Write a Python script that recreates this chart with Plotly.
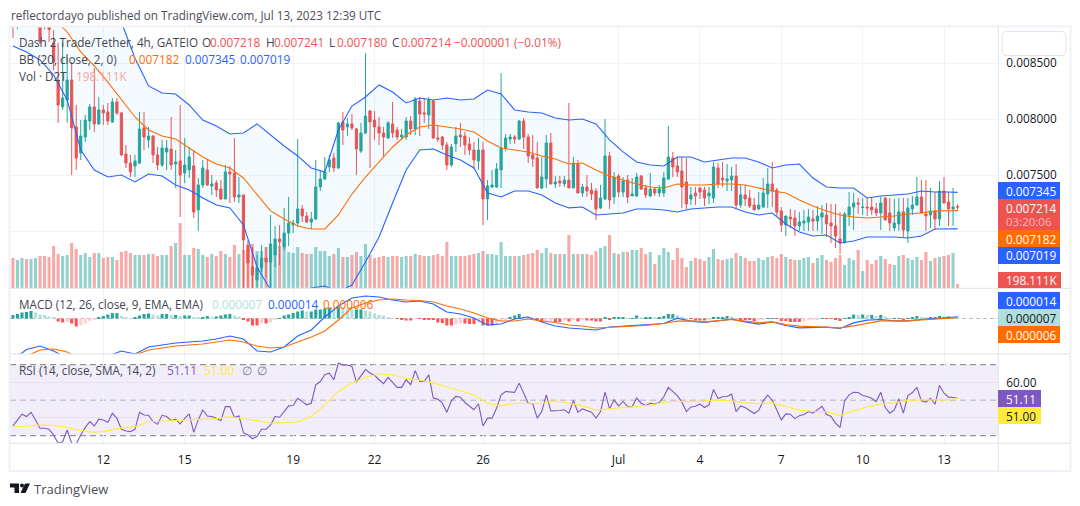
#!/usr/bin/env python3

import pandas as pd
import plotly.graph_objects as go

# the page keeps its 8px body margin, so the figure is a little smaller than the window
WIDTH = 1064
HEIGHT = 490
PAGE_MARGIN = 8
FONT = "Open Sans"

# 4h candles of D2T/USDT, prices in millionths
start_time = "2023-06-08 16:00"

opens = [
    8929,8850,8900,8960,8890,8950,9000,8900,8880,8679,
    8348,8108,8170,8348,7929,7697,7839,7982,8108,7956,
    8081,8063,7974,8152,8054,7688,7607,7581,7607,7920,
    7813,7848,7679,7589,7706,7732,7598,7625,7518,7545,
    7581,7188,7411,7545,7402,7429,7375,7286,7527,7518,
    7304,7322,6875,6679,6562,6670,6759,6723,6786,6929,
    6857,6982,7054,7071,7197,7134,7080,7107,7393,7464,
    7572,7652,7563,7974,7929,7956,7911,7714,7875,8072,
    7991,7929,7875,7830,7956,7902,7839,7839,7982,7911,
    8161,8054,8036,8161,7830,7839,7768,7589,7777,7857,
    7848,7777,7723,7625,7723,7286,7393,7393,7545,7741,
    7821,7839,7821,7982,7839,7679,7652,7384,7464,7786,
    7420,7446,7420,7455,7384,7598,7339,7393,7366,7357,
    7206,7286,7670,7304,7491,7348,7455,7313,7313,7491,
    7384,7313,7375,7339,7339,7464,7652,7581,7536,7438,
    7286,7339,7384,7366,7313,7295,7563,7473,7446,7455,
    7491,7232,7322,7295,7232,7197,7214,7330,7420,7366,
    7179,7054,7125,7116,7045,7071,7080,7107,7089,7125,
    7143,7071,7045,6929,6893,7143,7214,7250,7210,7214,
    7214,7197,7161,7295,7161,7027,7063,7170,7000,7197,
    7232,7304,7152,7143,7179,7107,7357,7259,7197,7218,
]
highs = [
    8974,8990,9010,9030,9000,9040,9050,8950,8960,8795,
    8679,8679,8554,8509,8125,7991,8036,8134,8455,8197,
    8125,8143,8188,8188,8063,7768,7679,7679,8063,8063,
    7929,7857,7750,7813,7813,8018,7723,8125,7830,7750,
    7723,7473,7634,7643,7500,7455,7455,7589,7581,7830,
    7482,7322,6920,6857,6786,6875,6857,7143,7045,7054,
    7206,7304,7098,7821,7232,7170,7170,7634,7545,7661,
    7679,7697,7974,8063,8009,8045,7920,7965,8589,8080,
    8072,8018,7929,7982,8152,7929,7911,8018,8027,8197,
    8197,8187,8197,8170,7947,7848,7795,7777,7929,7965,
    7884,7839,7795,7830,7795,7455,7545,7607,8411,7866,
    7866,7857,7991,8009,7866,7857,7795,7661,7857,7875,
    7491,7491,7491,8143,7661,7634,7420,7500,7429,7384,
    7411,8000,7706,7527,7509,7482,7500,7473,7518,7500,
    7411,7518,7384,7411,7527,7938,7706,7661,7661,7652,
    7393,7393,7393,7393,7393,7616,7607,7616,7598,7572,
    7598,7411,7411,7366,7295,7348,7473,7563,7616,7384,
    7214,7134,7197,7188,7170,7188,7197,7188,7223,7232,
    7250,7241,7241,7170,7170,7348,7339,7295,7295,7295,
    7304,7250,7304,7295,7295,7286,7295,7295,7295,7313,
    7482,7455,7455,7384,7348,7446,7482,7348,7384,7241,
]
lows = [
    8723,8800,8850,8860,8830,8880,8670,8800,8688,8437,
    7965,8081,7965,7500,7545,7634,7795,7902,7884,7947,
    7947,7947,7965,8036,7670,7563,7482,7482,7598,7723,
    7741,7607,7545,7572,7545,7545,7384,7125,7429,7473,
    7116,7000,7384,7402,7322,7304,7277,7286,7250,7259,
    7250,6491,6491,6491,6429,6634,6580,6491,6679,6696,
    6830,6866,6982,7036,7080,7071,7018,7098,7357,7455,
    7527,7527,7554,7768,7848,7902,7500,7697,7866,7563,
    7813,7768,7661,7821,7830,7813,7813,7813,7857,7857,
    7848,7965,7911,7821,7795,7723,7545,7572,7706,7750,
    7679,7679,7554,7545,7054,7098,7384,7384,7384,7714,
    7777,7777,7813,7732,7607,7572,7384,7375,7384,7420,
    7384,7393,7393,7384,7384,7339,7304,7304,7277,7098,
    7197,7277,7197,7241,7304,7304,7250,7313,7304,7366,
    7295,7304,7313,7304,7304,7455,7482,7482,7206,7197,
    7232,7232,7286,7223,7241,7250,7384,7393,7357,7357,
    7197,7206,7223,7206,7188,7188,7206,7206,7214,7134,
    6991,6955,7027,6955,7000,7000,7000,7000,7000,6973,
    6946,6893,6848,6795,6893,7045,7009,7152,7143,7134,
    7143,7134,7009,7098,7000,7000,7000,6946,6893,7143,
    7223,7161,7000,7027,7009,7045,7250,7045,7045,7180,
]
closes = [
    8866,8920,8960,8890,8950,9000,8688,8850,8800,8509,
    8125,8188,8348,7920,7652,7848,7991,8108,7956,8081,
    8054,7982,8152,8054,7679,7607,7527,7625,7911,7839,
    7848,7679,7589,7741,7741,7589,7616,7500,7589,7661,
    7170,7411,7563,7411,7420,7366,7286,7527,7509,7304,
    7322,6920,6714,6607,6670,6759,6723,6884,6929,6902,
    6982,7071,7071,7197,7134,7080,7107,7393,7464,7527,
    7634,7563,7965,7902,7956,7920,7732,7875,8027,7974,
    7929,7875,7839,7965,7875,7839,7857,7982,7911,8179,
    8045,8045,8170,7830,7821,7768,7589,7750,7848,7839,
    7768,7723,7634,7723,7286,7402,7411,7554,7741,7830,
    7839,7821,7982,7839,7670,7643,7384,7482,7786,7420,
    7438,7429,7455,7384,7607,7339,7393,7357,7330,7197,
    7295,7670,7277,7482,7348,7446,7304,7330,7482,7375,
    7322,7375,7339,7375,7473,7661,7572,7527,7393,7241,
    7322,7313,7348,7295,7339,7572,7420,7455,7464,7491,
    7232,7322,7286,7223,7188,7232,7339,7420,7357,7170,
    7054,7134,7107,7045,7080,7089,7125,7089,7134,7161,
    7063,7045,6955,6893,7152,7214,7250,7241,7214,7206,
    7188,7161,7250,7098,7071,7071,7170,7009,7206,7232,
    7304,7161,7134,7179,7107,7357,7250,7197,7214,7214,
]

# volume in thousands
volumes = [
    1500,1400,1500,1450,1450,1500,1600,1600,1550,2100,
    1700,1600,1650,2250,1950,1650,1750,1550,1750,1750,
    1500,1550,1550,1400,1800,1850,1750,1650,1650,1650,
    1700,1700,1600,1650,1650,2100,2250,3250,1650,1650,
    2000,1950,1650,1550,1700,1600,1850,1700,1550,2150,
    1700,1900,1950,2200,1850,1850,2050,1850,2150,2100,
    2300,1800,1750,2050,1750,1700,1700,2050,1850,1850,
    1600,1700,2000,1550,1550,1650,1800,1600,2200,1650,
    1500,1550,1600,1550,1600,1600,1550,1600,1600,1700,
    1650,1600,1600,1650,1700,1600,2300,1600,1600,1600,
    1600,1650,1700,1750,1850,1700,1700,1650,2300,1600,
    1600,1600,1600,1650,1700,1750,1900,1750,2000,1750,
    1700,1700,1700,2650,1700,1700,1700,1700,1650,1850,
    2000,2100,2650,1750,1700,1800,1800,1900,1900,2000,
    1700,1800,1200,1650,2000,1800,1400,2000,1500,1050,
    1350,1500,1450,1350,1550,1950,1450,1400,1450,1500,
    1750,1600,1500,1350,1350,1500,1400,1550,1600,1500,
    1700,1550,1450,1400,1400,1500,1550,1250,1500,1650,
    1400,1300,1500,1650,1150,1500,1400,1900,850,1400,
    1200,1400,1600,1450,1200,1150,1600,1650,1500,1400,
    1550,1400,1800,1350,1500,1550,1600,1650,1750,198,
]

# MACD histogram, RSI per bar, MACD in millionths
macd_hist = [
    28,36,48,52,60,48,32,28,16,8,
    -24,-32,-28,-40,-64,-56,-40,-20,-8,12,
    20,32,44,44,20,8,4,8,24,36,
    40,32,24,36,36,28,28,20,24,24,
    12,8,12,20,16,16,24,32,36,24,
    16,-8,-24,-56,-56,-40,-40,-32,-8,4,
    24,32,44,56,64,56,56,72,72,80,
    88,80,96,88,80,72,72,72,64,56,
    40,28,24,12,4,-2,-8,-16,-16,-4,
    -4,-8,-8,-8,-32,-36,-56,-56,-48,-40,
    -40,-44,-44,-32,-56,-56,-56,-48,-24,-12,
    12,24,36,16,8,0,-12,-28,-24,-20,
    -28,-28,-16,-24,-12,-24,-8,-16,-16,-24,
    -24,8,-8,12,12,12,4,4,24,8,
    12,12,8,12,20,36,36,28,16,2,
    -4,-16,-16,-16,-8,12,12,12,20,16,
    4,-12,-12,-12,-20,-12,-8,4,4,-4,
    -20,-20,-28,-28,-28,-20,-16,-12,-8,2,
    -2,-4,-12,-20,4,12,32,28,32,28,
    28,20,28,16,4,4,4,-16,4,12,
    20,12,8,8,8,20,16,16,12,7,
]
rsi = [
    35.5,38.9,42.1,40.8,43.2,38.9,34.2,34.2,33.6,30.4,
    25.7,26.6,33.2,25.7,25.3,30.4,34.7,37.9,35.5,39.3,
    38.9,37.6,42.6,39.8,33.6,32.7,32.3,33.6,43.2,41.7,
    41.5,37.9,36.4,41.5,40.8,38.5,39.3,36.6,39.8,42.3,
    31.9,38.9,44.5,41.1,40.8,39.8,38.5,46.4,46.4,40.4,
    41.1,31.7,30.4,28.3,29.5,33.6,33.6,36.1,40.8,40.4,
    43.6,46.8,47.0,51.1,49.2,47.4,48.3,58.6,60.5,64.3,
    65.2,61.5,70.9,69.8,69.8,69.0,60.2,63.4,67.2,65.3,
    64.0,61.5,59.3,62.8,60.0,57.2,57.2,61.5,58.7,66.6,
    60.6,60.6,64.3,51.2,50.6,48.3,43.2,49.6,52.1,51.7,
    48.7,46.4,44.6,48.0,35.5,39.9,39.9,45.5,53.0,54.9,
    54.7,54.4,59.6,54.0,48.3,48.0,39.9,43.6,53.0,44.0,
    44.0,44.2,44.6,42.7,49.8,43.1,45.1,44.2,43.2,39.9,
    43.6,54.5,45.1,50.2,46.8,49.3,46.4,46.4,51.2,48.3,
    47.0,48.3,47.8,48.7,51.9,57.2,54.9,52.6,48.9,43.6,
    46.2,46.6,47.9,45.9,47.4,56.0,50.9,51.9,52.1,53.4,
    43.6,46.8,45.9,44.2,42.5,44.2,49.6,52.8,50.0,44.5,
    38.9,42.3,42.1,39.6,41.3,41.9,43.6,42.7,44.7,46.6,
    42.1,40.8,37.0,34.7,49.6,53.0,54.5,54.3,52.6,52.1,
    51.1,49.2,54.5,45.9,42.7,44.5,50.8,42.7,52.6,54.3,
    57.2,49.6,48.9,51.1,47.7,58.3,53.9,51.7,51.5,51.11,
]

# the smooth lines, read every third bar and on the last one
bb_upper = [
    9450,9480,9500,9450,9350,9200,9050,8900,8866,8545,
    8295,8232,8223,8125,7991,7938,7866,7875,7956,7857,
    7759,7670,7563,7527,7902,8116,8197,8304,8241,8143,
    8188,8170,8188,8170,8179,8259,8224,8081,8063,8054,
    8009,7991,8000,7956,7813,7706,7616,7589,7581,7661,
    7661,7616,7634,7652,7652,7616,7563,7589,7598,7473,
    7393,7384,7384,7295,7313,7322,7330,7357,7348,7348,7345,
]
bb_basis = [
    9150,9100,9020,8900,8777,8599,8474,8330,8179,8018,
    7902,7848,7821,7741,7661,7598,7563,7473,7322,7179,
    7107,7045,7018,7018,7143,7330,7482,7616,7750,7857,
    7929,7947,7929,7911,7884,7804,7741,7723,7706,7670,
    7643,7598,7607,7545,7491,7455,7420,7393,7384,7420,
    7411,7411,7420,7420,7411,7384,7357,7339,7277,7223,
    7179,7143,7125,7116,7125,7134,7152,7161,7179,7179,7182,
]
bb_lower = [
    8652,8598,8527,8393,8170,7723,7545,7482,7500,7438,
    7509,7491,7411,7366,7295,7232,7206,7054,6679,6473,
    6420,6384,6491,6509,6455,6518,6723,6946,7250,7545,
    7723,7732,7679,7634,7563,7339,7304,7357,7357,7322,
    7250,7206,7214,7143,7152,7161,7197,7197,7188,7170,
    7197,7206,7214,7214,7170,7143,7161,7063,6991,6955,
    6964,6893,6911,6946,6946,6946,6938,6955,7018,7018,7019,
]
macd_line = [
    -332,-248,-220,-260,-316,-364,-348,-300,-260,-284,
    -228,-212,-196,-188,-180,-164,-140,-164,-260,-268,
    -228,-140,-92,12,100,164,180,172,148,132,
    140,116,52,36,4,-52,-44,-4,12,-28,
    -60,-76,-84,-92,-68,-60,-52,-44,-40,3,
    -21,-32,-21,-5,-27,-45,-27,-56,-75,-69,
    -69,-80,-35,-13,-8,-19,-19,-8,0,11,14,
]
macd_signal = [
    -372,-300,-252,-244,-268,-332,-356,-348,-324,-292,
    -252,-236,-220,-212,-204,-188,-172,-188,-220,-236,
    -228,-188,-148,-100,-12,84,124,148,156,148,
    144,132,100,76,44,4,-20,-20,-4,-20,
    -32,-52,-60,-76,-72,-68,-60,-52,-40,-21,
    -19,-27,-19,-8,-21,-32,-27,-48,-61,-67,
    -69,-75,-59,-37,-19,-19,-19,-11,-3,3,6,
]
rsi_ma = [
    35.1,35.3,36.1,35.9,34.7,32.9,31.9,32.7,34.4,35.1,
    37.9,38.3,38.3,38.9,39.3,39.6,40.8,39.8,38.5,37.0,
    37.2,37.8,40.8,47.4,54.9,59.6,63.0,64.7,64.3,62.3,
    61.3,59.6,57.4,55.5,52.9,48.3,46.8,48.3,48.3,48.0,
    49.7,48.3,46.8,44.4,45.3,45.9,46.6,47.2,48.7,49.4,
    49.2,49.8,50.0,49.6,48.5,48.1,48.5,46.4,44.3,43.8,
    43.6,41.3,44.0,46.2,47.9,48.5,50.0,50.2,50.0,50.2,51.0,
]

tick_dates = ["2023-06-12", "2023-06-15", "2023-06-19", "2023-06-22", "2023-06-26",
              "2023-07-01", "2023-07-04", "2023-07-07", "2023-07-10", "2023-07-13"]
tick_labels = ["12", "15", "19", "22", "26", "Jul", "4", "7", "10", "13"]
price_ticks = [0.007, 0.0075, 0.008, 0.0085]
price_tick_labels = ["", "0.007500", "0.008000", "0.008500"]

GREEN = "#26a69a"
RED = "#ef5350"
BLUE = "#2962ff"
ORANGE = "#ff6d00"
TEXT = "#131722"
LEGEND = "#434651"
GRID = "#f0f3fa"
FRAME = "#e0e3eb"
PURPLE = "#7e57c2"
YELLOW = "#ffeb3b"
LINE_W = 1.1
AXIS_SIZE = 11.8

assert all(len(s) == 210 for s in (opens, highs, lows, closes, volumes, macd_hist, rsi))
assert all(len(s) == 71 for s in (bb_upper, bb_basis, bb_lower, macd_line, macd_signal, rsi_ma))

dates = pd.date_range(start_time, periods=len(opens), freq="4h")
line_idx = list(range(0, len(opens), 3)) + [len(opens) - 1]
line_dates = dates[line_idx]
bar_ms = 4 * 3600 * 1000 * 0.68


def micro(values):
    return [v / 1e6 for v in values]


def px(x):
    return (x - PAGE_MARGIN) / WIDTH


def py(y):
    return 1 - (y - PAGE_MARGIN) / HEIGHT


def hist_colors(values):
    colors = []
    prev = 0
    for v in values:
        if v >= 0:
            colors.append(GREEN if v >= prev else "#b2dfdb")
        else:
            colors.append("#ff5252" if v <= prev else "#ffcdd2")
        prev = v
    return colors


vol_colors = ["rgba(38,166,154,0.5)" if c >= o else "rgba(239,83,80,0.5)"
              for o, c in zip(opens, closes)]

fig = go.Figure()

# volume sits on the base axis so the candles stay on top of it
fig.add_trace(go.Bar(x=dates, y=volumes, width=bar_ms, marker_color=vol_colors,
                     marker_line_width=0, xaxis="x", yaxis="y"))
fig.add_trace(go.Scatter(x=line_dates, y=micro(bb_upper), mode="lines",
                         line=dict(color=BLUE, width=LINE_W), xaxis="x", yaxis="y2"))
fig.add_trace(go.Scatter(x=line_dates, y=micro(bb_lower), mode="lines",
                         line=dict(color=BLUE, width=LINE_W), fill="tonexty",
                         fillcolor="rgba(33,150,243,0.05)", xaxis="x", yaxis="y2"))
fig.add_trace(go.Candlestick(x=dates, open=micro(opens), high=micro(highs),
                             low=micro(lows), close=micro(closes),
                             increasing=dict(line=dict(color=GREEN, width=1), fillcolor=GREEN),
                             decreasing=dict(line=dict(color=RED, width=1), fillcolor=RED),
                             whiskerwidth=0, xaxis="x", yaxis="y2"))
fig.add_trace(go.Scatter(x=line_dates, y=micro(bb_basis), mode="lines",
                         line=dict(color=ORANGE, width=LINE_W), xaxis="x", yaxis="y2"))

# MACD pane
fig.add_trace(go.Bar(x=dates, y=macd_hist, width=bar_ms, marker_color=hist_colors(macd_hist),
                     marker_line_width=0, xaxis="x2", yaxis="y3"))
fig.add_trace(go.Scatter(x=line_dates, y=macd_line, mode="lines",
                         line=dict(color=BLUE, width=LINE_W), xaxis="x2", yaxis="y3"))
fig.add_trace(go.Scatter(x=line_dates, y=macd_signal, mode="lines",
                         line=dict(color=ORANGE, width=LINE_W), xaxis="x2", yaxis="y3"))

# RSI pane
fig.add_trace(go.Scatter(x=dates, y=rsi, mode="lines",
                         line=dict(color=PURPLE, width=LINE_W), xaxis="x3", yaxis="y4"))
fig.add_trace(go.Scatter(x=line_dates, y=rsi_ma, mode="lines",
                         line=dict(color=YELLOW, width=LINE_W), xaxis="x3", yaxis="y4"))

x_range = ["2023-06-08 13:24", "2023-07-14 23:46"]
x_domain = [px(10), px(998)]
x_common = dict(range=x_range, domain=x_domain, tickvals=tick_dates, ticktext=tick_labels,
                showgrid=True, gridcolor=GRID, gridwidth=1, zeroline=False,
                rangeslider=dict(visible=False), showline=False)

shapes = []
annotations = []


def hline(y, color, width=1, dash="solid", x1=998):
    shapes.append(dict(type="line", xref="paper", yref="paper", x0=px(10), x1=px(x1),
                       y0=py(y), y1=py(y), line=dict(color=color, width=width, dash=dash),
                       layer="above"))


def vline(x, y0, y1, color, width=1):
    shapes.append(dict(type="line", xref="paper", yref="paper", x0=px(x), x1=px(x),
                       y0=py(y0), y1=py(y1), line=dict(color=color, width=width), layer="above"))


def text(x, y, s, color=TEXT, size=11.7):
    annotations.append(dict(xref="paper", yref="paper", x=px(x), y=py(y), text=s, showarrow=False,
                            xanchor="left", yanchor="middle", xshift=-1,
                            font=dict(family=FONT, size=size, color=color)))


def label(y0, y1, x1, fill, s, color="#ffffff"):
    shapes.append(dict(type="rect", xref="paper", yref="paper", x0=px(998), x1=px(x1),
                       y0=py(y0), y1=py(y1), fillcolor=fill, line_width=0, layer="above"))
    text(1005, (y0 + y1) / 2, s, color, AXIS_SIZE)


def legend_row(y, name, parts):
    # each value gets its own x, the spacing in the reference is wider than a plain space
    text(18, y, name, LEGEND)
    for x, s, color in parts:
        text(x, y, s, color, 11.8)


# RSI band and its dashed levels
shapes.append(dict(type="rect", xref="paper", yref="y4", x0=px(10), x1=px(998), y0=30, y1=70,
                   fillcolor="rgba(126,87,194,0.1)", line_width=0, layer="below"))
for lvl, col in [(70, "#787b86"), (50, "rgba(120,123,134,0.5)"), (30, "#787b86")]:
    shapes.append(dict(type="line", xref="paper", yref="y4", x0=px(10), x1=px(998), y0=lvl, y1=lvl,
                       line=dict(color=col, width=1, dash="6px,4px"), layer="below"))
# MACD zero line
shapes.append(dict(type="line", xref="paper", yref="y3", x0=px(10), x1=px(998), y0=0, y1=0,
                   line=dict(color="rgba(120,123,134,0.5)", width=1, dash="4px,3px"), layer="below"))

# chart frame
shapes.append(dict(type="rect", xref="paper", yref="paper", x0=px(9.5), x1=px(1070.5),
                   y0=py(26.5), y1=py(471), line=dict(color="#eef1f6", width=2), layer="above"))
hline(288.3, FRAME, x1=1070)
hline(354, FRAME, x1=1070)
hline(443.3, FRAME, x1=1070)
vline(998.3, 27, 471, FRAME)

# settings button in the top right corner
bx0, bx1, by0, by1, r = px(1002), px(1066), py(31.5), py(55.5), 5
rx, ry = r / WIDTH, r / HEIGHT
shapes.append(dict(type="path", xref="paper", yref="paper", layer="above",
                   line=dict(color=FRAME, width=1), fillcolor="#ffffff",
                   path=f"M {bx0 + rx} {by0} L {bx1 - rx} {by0} Q {bx1} {by0} {bx1} {by0 - ry} "
                        f"L {bx1} {by1 + ry} Q {bx1} {by1} {bx1 - rx} {by1} L {bx0 + rx} {by1} "
                        f"Q {bx0} {by1} {bx0} {by1 + ry} L {bx0} {by0 - ry} Q {bx0} {by0} {bx0 + rx} {by0} Z"))

# TradingView logo
shapes.append(dict(type="path", xref="paper", yref="paper", fillcolor=TEXT, line_width=0, layer="above",
                   path=f"M {px(10)} {py(483.5)} L {px(19)} {py(483.5)} L {px(19)} {py(493)} "
                        f"L {px(14.5)} {py(493)} L {px(14.5)} {py(487.5)} L {px(10)} {py(487.5)} Z"))
shapes.append(dict(type="circle", xref="paper", yref="paper", fillcolor=TEXT, line_width=0, layer="above",
                   x0=px(20), x1=px(24), y0=py(483.5), y1=py(487.5)))
shapes.append(dict(type="path", xref="paper", yref="paper", fillcolor=TEXT, line_width=0, layer="above",
                   path=f"M {px(25)} {py(483.5)} L {px(30)} {py(483.5)} L {px(25.5)} {py(493)} "
                        f"L {px(20.5)} {py(493)} Z"))

# texts
text(10, 15, "reflectordayo published on TradingView.com, Jul 13, 2023 12:39 UTC", "#4a4e59")
text(33, 488.5, "TradingView", "#4a4e59", 13)

legend_row(42, "Dash 2 Trade/Tether, 4h, GATEIO", [
    (201, "O", LEGEND), (209, "0.007218", RED),
    (265, "H", LEGEND), (273, "0.007241", RED),
    (328, "L", LEGEND), (336, "0.007180", RED),
    (391, "C", LEGEND), (400, "0.007214", RED),
    (453, "−0.000001 (−0.01%)", RED),
])
legend_row(59, "BB (20, close, 2, 0)", [
    (128, "0.007182", ORANGE), (184, "0.007345", BLUE), (239, "0.007019", BLUE),
])
legend_row(76, "Vol · D2T", [(75, "198.111K", "#f7a5a3")])
legend_row(303.5, "MACD (12, 26, close, 9, EMA, EMA)", [
    (211, "0.000007", "#b2dfdb"), (267, "0.000014", BLUE), (322, "0.000006", ORANGE),
])
legend_row(370, "RSI (14, close, SMA, 14, 2)", [
    (166, "51.11", PURPLE), (203, "51.00", YELLOW), (241, "∅", "#787b86"), (256, "∅", "#787b86"),
])

label(182, 199, 1060, BLUE, "0.007345")
shapes.append(dict(type="rect", xref="paper", yref="paper", x0=px(998), x1=px(1060), y0=py(199), y1=py(230),
                   fillcolor=RED, line_width=0, layer="above"))
text(1005, 207.5, "0.007214", "#ffffff", AXIS_SIZE)
text(1005, 221.5, "03:20:06", "#f9b9b7", 11.5)
label(230, 247, 1060, ORANGE, "0.007182")
label(247, 264, 1060, BLUE, "0.007019")
label(272, 288, 1061, RED, "198.111K")
label(292, 309, 1060, BLUE, "0.000014")
label(309, 326, 1060, "#b2dfdb", "0.000007", TEXT)
label(326, 343, 1060, ORANGE, "0.000006")
label(390, 407, 1041, PURPLE, "51.11")
label(407, 424, 1041, YELLOW, "51.00", TEXT)

tick_font = dict(family=FONT, size=AXIS_SIZE, color=TEXT)

fig.update_layout(
    width=WIDTH, height=HEIGHT, margin=dict(l=0, r=0, t=0, b=0), autosize=False,
    paper_bgcolor="#ffffff", plot_bgcolor="#ffffff", showlegend=False, hovermode=False,
    barmode="overlay", boxgap=0.3, shapes=shapes, annotations=annotations,
    xaxis=dict(anchor="y", showticklabels=False, **x_common),
    xaxis2=dict(anchor="y3", showticklabels=False, **x_common),
    xaxis3=dict(anchor="y4", showticklabels=True, tickfont=dict(family=FONT, size=12, color=TEXT),
                ticks="outside", ticklen=6, tickcolor="rgba(0,0,0,0)", **x_common),
    yaxis=dict(domain=[py(288), py(27)], range=[0, 13050], showticklabels=False, showgrid=False, zeroline=False),
    yaxis2=dict(domain=[py(288), py(27)], overlaying="y", anchor="x", side="right", range=[0.006491, 0.0088215],
                tickvals=price_ticks, ticktext=price_tick_labels, tickfont=tick_font, ticks="outside", ticklen=5,
                tickcolor="rgba(0,0,0,0)", showgrid=True, gridcolor=GRID, zeroline=False),
    yaxis3=dict(domain=[py(354), py(289)], anchor="x2", range=[-284, 236], showticklabels=False,
                showgrid=False, zeroline=False),
    yaxis4=dict(domain=[py(443), py(354)], anchor="x3", side="right", range=[25.9, 76],
                tickvals=[40, 60], ticktext=["", "60.00"], tickfont=tick_font, ticks="outside", ticklen=5,
                tickcolor="rgba(0,0,0,0)", showgrid=True, gridcolor="#e6e3ef", zeroline=False),
)

fig.write_html("out.html")
